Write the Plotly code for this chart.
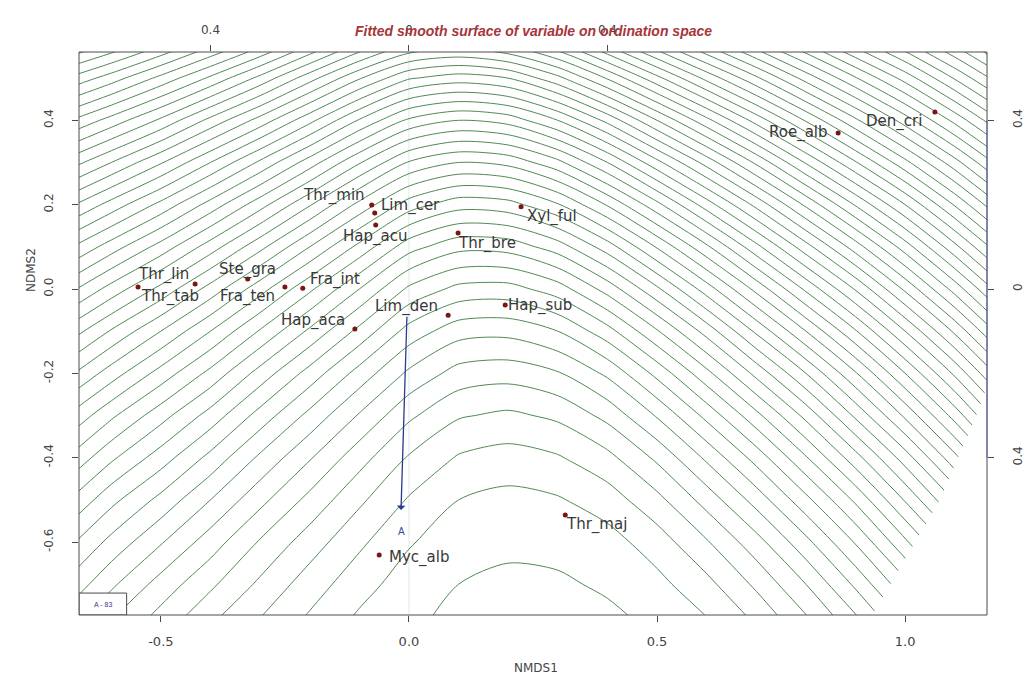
import plotly.graph_objects as go

# ---- species scores (NMDS1, NMDS2) ----
species = ["Thr_lin", "Thr_tab", "Ste_gra", "Fra_ten", "Fra_int", "Hap_aca", "Lim_den",
           "Thr_min", "Lim_cer", "Hap_acu", "Thr_bre", "Xyl_ful", "Hap_sub", "Roe_alb",
           "Den_cri", "Thr_maj", "Myc_alb"]
nmds1 = [-0.546, -0.431, -0.325, -0.250, -0.214, -0.109, 0.079,
         -0.075, -0.069, -0.067, 0.099, 0.226, 0.194, 0.865,
         1.060, 0.315, -0.060]
nmds2 = [0.005, 0.012, 0.024, 0.005, 0.002, -0.095, -0.062,
         0.199, 0.180, 0.152, 0.133, 0.195, -0.038, 0.370,
         0.420, -0.536, -0.631]
# label offsets from the point (pixels: right, down)
lab_dx = [25, -25, 0, -37, 32, -42, -42, -38, 36, -1, 29, 31, 35, -40, -41, 31, 40]
lab_dy = [-12, 13, -9, 10, -9, -9, -9, -10, -8, 12, 11, 10, 0, 0, 10, 9, 2]

# fitted vector
arrow_start = (-0.004, -0.062)
arrow_end = (-0.016, -0.524)

# ---- fitted surface: contour level estimated at grid nodes from the picture ----
grid_x = [-0.7, -0.6, -0.5, -0.4, -0.3, -0.2, -0.1, 0.0, 0.1, 0.2,
          0.3, 0.4, 0.5, 0.6, 0.7, 0.8, 0.9, 1.0, 1.1, 1.2]
grid_y = [-0.8, -0.7, -0.6, -0.5, -0.4, -0.3, -0.2, -0.1, 0.0, 0.1, 0.2, 0.3, 0.4, 0.5, 0.6]
surface_z = [
    [19.5, 21.2, 22.6, 24.0, 25.2, 26.3, 27.3, 27.9, 28.2, 28.3, 28.3, 28.2, 27.9, 27.2, 26.0, 24.4, 22.5, 20.2, 17.5, 14.5],
    [18.0, 19.8, 21.4, 22.8, 24.2, 25.5, 26.6, 27.5, 28.0, 28.2, 28.1, 27.9, 27.3, 26.3, 24.8, 23.0, 20.8, 18.3, 15.5, 12.3],
    [16.5, 18.3, 19.9, 21.5, 23.1, 24.5, 25.8, 26.9, 27.6, 27.8, 27.8, 27.4, 26.5, 25.1, 23.4, 21.3, 18.9, 16.2, 13.3, 10.0],
    [14.7, 16.7, 18.3, 20.0, 21.7, 23.3, 24.8, 26.1, 27.0, 27.3, 27.1, 26.5, 25.3, 23.6, 21.6, 19.3, 16.8, 13.9, 10.9, 7.5],
    [12.8, 14.8, 16.5, 18.3, 20.2, 21.9, 23.6, 25.1, 26.1, 26.4, 26.1, 25.3, 23.8, 21.8, 19.6, 17.1, 14.4, 11.5, 8.3, 4.9],
    [10.8, 12.8, 14.6, 16.4, 18.4, 20.3, 22.1, 23.8, 24.9, 25.2, 24.8, 23.7, 21.9, 19.7, 17.3, 14.7, 11.8, 8.8, 5.6, 2.1],
    [8.5, 10.5, 12.4, 14.3, 16.4, 18.4, 20.4, 22.2, 23.4, 23.6, 23.1, 21.8, 19.7, 17.3, 14.7, 12.0, 9.1, 6.0, 2.8, -0.7],
    [6.1, 8.1, 10.0, 12.0, 14.1, 16.2, 18.3, 20.4, 21.6, 21.7, 21.0, 19.4, 17.1, 14.6, 11.8, 9.0, 6.1, 3.0, -0.2, -3.7],
    [3.4, 5.4, 7.3, 9.4, 11.6, 13.8, 16.0, 18.2, 19.3, 19.4, 18.5, 16.6, 14.2, 11.5, 8.7, 5.8, 2.9, -0.2, -3.4, -6.8],
    [0.6, 2.5, 4.4, 6.5, 8.7, 11.0, 13.3, 15.6, 16.7, 16.6, 15.5, 13.5, 10.9, 8.2, 5.3, 2.4, -0.5, -3.5, -6.7, -10.0],
    [-2.5, -0.6, 1.3, 3.4, 5.6, 7.9, 10.3, 12.5, 13.6, 13.4, 12.1, 9.9, 7.3, 4.5, 1.7, -1.2, -4.1, -7.0, -10.1, -13.3],
    [-5.8, -4.0, -2.1, 0.0, 2.2, 4.5, 6.9, 9.1, 10.0, 9.7, 8.3, 6.0, 3.3, 0.6, -2.2, -5.1, -7.9, -10.7, -13.6, -16.7],
    [-9.3, -7.6, -5.8, -3.7, -1.6, 0.7, 3.1, 5.2, 6.0, 5.6, 4.0, 1.7, -1.0, -3.7, -6.4, -9.1, -11.8, -14.5, -17.3, -20.2],
    [-13.1, -11.5, -9.7, -7.8, -5.7, -3.4, -1.1, 0.9, 1.5, 1.0, -0.7, -3.1, -5.7, -8.3, -10.8, -13.4, -15.9, -18.4, -21.1, -23.8],
    [-17.2, -15.7, -14.0, -12.1, -10.2, -8.0, -5.8, -4.0, -3.5, -4.2, -5.8, -8.2, -10.7, -13.1, -15.5, -17.8, -20.2, -22.5, -24.9, -27.4],
]

X_RANGE = [-0.665, 1.165]
Y_RANGE = [-0.773, 0.562]
AX = "#4a4a4a"
FONT = "Liberation Sans, Arial, sans-serif"
LINE_GREEN = "#4f8a52"

fig = go.Figure()
fig.add_trace(go.Contour(
    x=grid_x, y=grid_y, z=surface_z,
    contours=dict(coloring="lines", start=-30, end=28, size=1, showlabels=False),
    colorscale=[[0, LINE_GREEN], [1, LINE_GREEN]],
    line=dict(width=1, smoothing=0.8),
    showscale=False, hoverinfo="skip",
))
fig.add_trace(go.Scatter(
    x=nmds1, y=nmds2, mode="markers",
    marker=dict(size=5, color="#7a1515"),
    hoverinfo="text", text=species, showlegend=False,
))
fig.add_trace(go.Scatter(x=[0], y=[0], xaxis="x2", yaxis="y2", mode="markers",
                         marker=dict(opacity=0), showlegend=False, hoverinfo="skip"))

for name, sx, sy, dx, dy in zip(species, nmds1, nmds2, lab_dx, lab_dy):
    fig.add_annotation(x=sx, y=sy, text=name, showarrow=False, xshift=dx, yshift=-dy,
                       font=dict(family="DejaVu Sans", size=15, color="#383838"))

fig.add_annotation(x=arrow_end[0], y=arrow_end[1], ax=arrow_start[0], ay=arrow_start[1],
                   xref="x", yref="y", axref="x", ayref="y", showarrow=True,
                   arrowhead=1, arrowsize=1.1, arrowwidth=1.3, arrowcolor="#2b3a90", text="")
fig.add_annotation(x=arrow_end[0], y=arrow_end[1], text="A", showarrow=False, yshift=-22,
                   font=dict(family=FONT, size=10, color="#3a4aa8"))

# faint zero line
fig.add_shape(type="line", xref="x", yref="paper", x0=0, x1=0, y0=0, y1=1,
              line=dict(color="#dfe8ef", width=1), layer="below")
# region where the surface is not drawn (lower right)
fig.add_shape(type="path", xref="x", yref="y",
              path="M 0.93,-0.78 L 0.975,-0.69 L 1.07,-0.5 L 1.14,-0.31 L 1.17,-0.216 L 1.17,-0.78 Z",
              fillcolor="white", line=dict(width=0), layer="above")
# small box bottom-left
fig.add_shape(type="rect", xref="x", yref="y", x0=X_RANGE[0], x1=-0.569, y0=Y_RANGE[0], y1=-0.721,
              line=dict(color=AX, width=1), fillcolor="white")
fig.add_annotation(x=(X_RANGE[0] - 0.569) / 2, y=(Y_RANGE[0] - 0.721) / 2, text="A - 83",
                   showarrow=False, font=dict(family=FONT, size=7, color="#3a3a9a"))
# frame
fig.add_shape(type="rect", xref="paper", yref="paper", x0=0, x1=1, y0=0, y1=1,
              line=dict(color=AX, width=1))
fig.add_shape(type="line", xref="paper", yref="y", x0=1, x1=1, y0=-0.4, y1=0.4,
              line=dict(color="#5a66a8", width=1))

fig.add_annotation(xref="paper", yref="paper", x=0.5, y=1 + 31 / 563,
                   text="Fitted smooth surface of variable on ordination space",
                   showarrow=False, font=dict(family=FONT, size=14, color="#a5363a", style="italic", weight="bold"))
fig.add_annotation(xref="paper", yref="paper", x=(536 - 79) / 908, y=-62 / 563, text="NMDS1",
                   showarrow=False, font=dict(family="DejaVu Sans", size=12, color="#444"))
fig.add_annotation(xref="paper", yref="paper", x=(22 - 79) / 908, y=(615 - 270) / 563, text="NDMS2",
                   textangle=-90, showarrow=False, font=dict(family="DejaVu Sans", size=12, color="#444"))

tick_font = dict(family="DejaVu Sans", size=13, color="#444")
side_font = dict(family="DejaVu Sans", size=12, color="#444")
fig.update_layout(
    width=1028, height=676, margin=dict(l=79, r=41, t=52, b=61, autoexpand=False),
    paper_bgcolor="white", plot_bgcolor="white", showlegend=False,
    xaxis=dict(range=X_RANGE, tickvals=[-0.5, 0, 0.5, 1.0], ticktext=["-0.5", "0.0", "0.5", "1.0"],
               ticks="outside", ticklen=6, tickcolor=AX, showgrid=False, zeroline=False,
               showline=False, tickfont=tick_font, ticklabelstandoff=8, automargin=False),
    yaxis=dict(range=Y_RANGE, tickvals=[-0.6, -0.4, -0.2, 0, 0.2, 0.4],
               ticktext=["-0.6", "-0.4", "-0.2", "0.0", "0.2", "0.4"],
               ticks="outside", ticklen=6, tickcolor=AX, showgrid=False, zeroline=False,
               showline=False, tickfont=side_font, tickangle=-90, ticklabelstandoff=14,
               automargin=False),
    xaxis2=dict(overlaying="x", side="top", matches="x", range=X_RANGE, tickvals=[-0.4, 0, 0.4],
                ticktext=["0.4", "0", "0.4"], ticks="outside", ticklen=6, tickcolor=AX,
                showgrid=False, zeroline=False, showline=False, tickfont=side_font,
                ticklabelstandoff=6, automargin=False),
    yaxis2=dict(overlaying="y", side="right", matches="y", range=Y_RANGE, tickvals=[-0.4, 0, 0.4],
                ticktext=["0.4", "0", "0.4"], ticks="outside", ticklen=6, tickcolor=AX,
                showgrid=False, zeroline=False, showline=False, tickfont=side_font,
                tickangle=-90, ticklabelstandoff=14, automargin=False),
)
fig.write_html("out.html")
